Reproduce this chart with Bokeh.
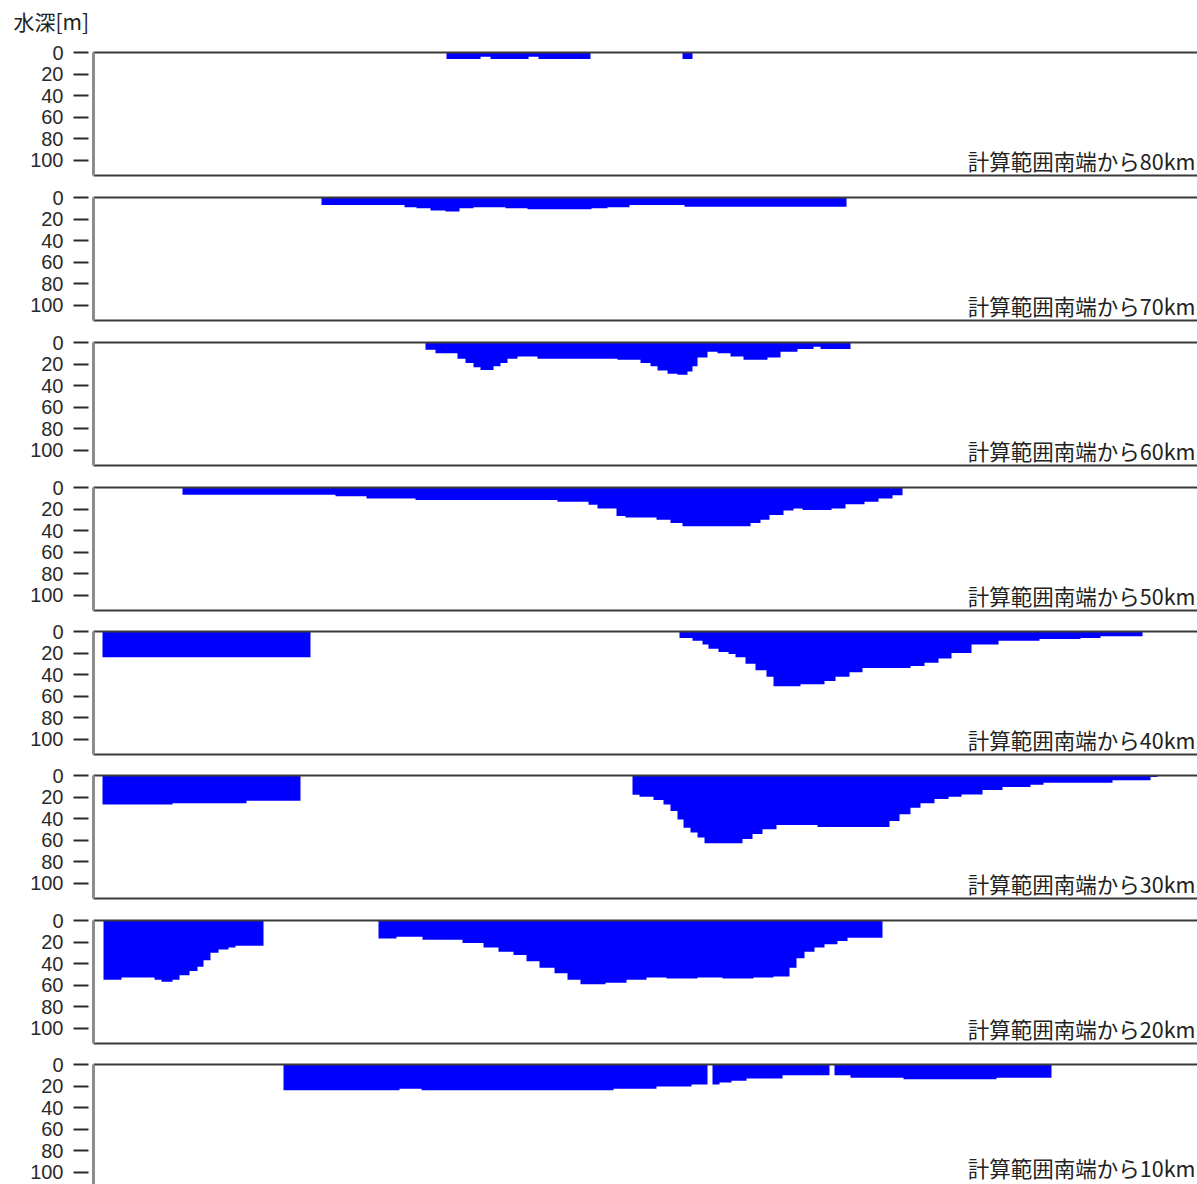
import numpy as np
from bokeh.plotting import figure
from bokeh.layouts import column
from bokeh.models import Range1d, LinearAxis, FixedTicker, Label
from bokeh.embed import file_html
from bokeh.resources import INLINE

# ---- data (x: distance along section, depth in m) ----
y_title = "水深[m]"
y_ticks = [0, 20, 40, 60, 80, 100]
labels = ["計算範囲南端から80km", "計算範囲南端から70km", "計算範囲南端から60km",
          "計算範囲南端から50km", "計算範囲南端から40km", "計算範囲南端から30km",
          "計算範囲南端から20km", "計算範囲南端から10km"]

x80 = [35.3, 38.7, 39.7, 43.5, 44.5, 49.7, 58.9, 59.9]
d80 = [6, 4, 6, 4, 6, 0, 6]

x70 = [22.8, 31.1, 32.3, 33.7, 35.2, 36.6, 38.0, 41.2, 43.4, 49.8, 51.4, 53.6, 59.1, 75.3]
d70 = [7, 9, 10, 12, 13, 10, 9, 10, 11, 10, 9, 7, 8.5]

x60 = [33.2, 34.2, 36.4, 37.2, 38.0, 38.7, 40.0, 40.7, 41.4, 42.4, 44.4, 52.4, 54.7, 55.7, 56.4,
       57.4, 58.4, 59.4, 59.9, 60.4, 61.4, 62.4, 63.7, 65.0, 67.4, 68.7, 70.4, 72.0, 72.7, 75.7]
d60 = [6.8, 10, 15, 19, 23, 25.5, 22, 19, 15, 13, 15, 16, 19, 22, 26, 29, 30, 27, 22, 14,
       8.7, 10, 13, 16, 14, 8.7, 6, 4, 6]

x50 = [8.9, 24.2, 27.3, 32.2, 46.4, 49.5, 50.4, 52.3, 53.2, 56.3, 57.7, 58.9, 65.7, 66.7, 67.6,
       69.0, 70.0, 70.9, 73.8, 75.2, 77.1, 78.5, 79.9, 80.9]
d50 = [6.7, 8.2, 10.3, 11.7, 13.2, 16, 19.6, 26.4, 27.8, 30, 33, 36, 33, 30, 25.5, 21.4, 19.6,
       21, 19.6, 15.5, 13.2, 10.3, 7.3]

x40 = [0.9, 21.7, 58.6, 59.9, 60.9, 61.5, 62.5, 63.5, 64.2, 65.2, 66.2, 67.3, 68.0, 70.7, 73.1,
       74.2, 75.6, 76.9, 81.7, 83.1, 84.5, 85.8, 87.8, 90.5, 94.6, 98.7, 100.7, 104.9]
d40 = [24, 0, 6, 8.5, 12, 16, 19, 21, 24, 30, 36, 42, 51, 49, 46, 42, 38, 34, 32, 29, 25, 20,
       12, 8.5, 7, 6, 4.5]

x30 = [0.9, 7.9, 15.3, 20.7, 53.9, 54.6, 56.0, 57.0, 57.7, 58.4, 59.0, 59.7, 60.4, 61.1, 64.9,
       65.9, 66.9, 68.3, 72.4, 79.6, 80.6, 81.7, 82.7, 84.1, 85.5, 86.8, 88.9, 90.9, 93.7, 95.0,
       101.9, 105.7, 106.4]
d30 = [27, 25.8, 23.6, 0, 18, 19.7, 22.7, 27, 33, 41, 48.5, 53, 57.6, 63, 59, 54.5, 50, 46, 48,
       42.4, 36, 30, 25.8, 21.8, 19.7, 17.6, 13.6, 10.6, 8.5, 6.7, 4.5, 1.5]

x20 = [1.0, 2.8, 6.1, 6.8, 7.9, 8.6, 9.6, 10.4, 11.0, 11.7, 12.5, 13.5, 14.2, 17.0, 28.5, 30.3,
       32.9, 36.9, 39.0, 40.5, 42.0, 43.3, 44.6, 46.1, 47.4, 48.7, 51.2, 53.3, 55.3, 57.3, 60.4,
       62.9, 66.0, 68.0, 69.6, 70.3, 71.1, 72.1, 73.1, 74.4, 75.4, 78.9]
d20 = [55, 53, 55, 57, 55, 51, 47, 43, 37, 30, 27, 25, 23.4, 0, 16.8, 15, 18, 21, 25, 29, 32,
       38, 44, 49, 55, 59.4, 58, 55, 53, 54, 53, 54, 53, 52, 44, 35, 29, 25, 22, 19, 16]

x10 = [19.0, 30.6, 32.8, 52.0, 56.3, 59.8, 61.4, 61.9, 62.6, 63.8, 65.3, 68.9, 73.6, 74.1, 75.7,
       81.0, 90.3, 95.8]
d10 = [24, 22.5, 24, 22.5, 20.5, 18.5, 0, 18.5, 16.7, 15, 13, 10, 0, 10, 12.3, 13.8, 12.3]

sections = [(x80, d80), (x70, d70), (x60, d60), (x50, d50),
            (x40, d40), (x30, d30), (x20, d20), (x10, d10)]

# ---- layout (top border, frame height, bottom border, label y) ----
HEAD_H = 40
layout = [(12, 123, 11, 100), (11, 123, 11, 100), (11, 123, 11, 100), (11, 123, 10, 100),
          (11, 123, 10, 100), (11, 123, 11, 100), (11, 123, 10, 100), (11, 120, 0, 96)]
PX_PER_M = 1.075
X_END = 110.4
NUM_FONT = "Liberation Sans"
JP_FONT = "Noto Sans CJK JP"


def border_axis(color):
    return LinearAxis(ticker=FixedTicker(ticks=[]), axis_line_color=color, axis_line_width=2,
                      major_tick_line_color=None, minor_tick_line_color=None,
                      major_tick_in=0, major_tick_out=0, minor_tick_in=0, minor_tick_out=0,
                      major_label_text_font_size="0px", major_label_standoff=0)


# header strip: carries the unit title of the depth axis
head = figure(width=1197, height=HEAD_H, x_range=Range1d(0, X_END), y_range=Range1d(1, 0),
              output_backend="svg", toolbar_location=None, min_border_left=93,
              min_border_right=0, min_border_top=0, min_border_bottom=0,
              x_axis_location=None, y_axis_location=None)
head.outline_line_color = None
head.xgrid.grid_line_color = None
head.ygrid.grid_line_color = None
head.title.text = y_title
head.title.align = "left"
head.title.offset = -80
head.title.standoff = 10
head.title.text_font = JP_FONT
head.title.text_font_size = "21px"
head.title.text_font_style = "normal"
head.title.text_color = "#222222"

figs = [head]
for i, ((bx, dd), lab, (bt, fh, bb, ly)) in enumerate(zip(sections, labels, layout)):
    ymax = fh / PX_PER_M
    p = figure(width=1197, height=bt + fh + bb, x_range=Range1d(0, X_END),
               y_range=Range1d(ymax, 0), output_backend="svg", toolbar_location=None,
               min_border_left=93, min_border_right=0, min_border_top=bt,
               min_border_bottom=bb, x_axis_location=None, y_axis_location=None)
    p.outline_line_color = None
    p.xgrid.grid_line_color = None
    p.ygrid.grid_line_color = None
    p.background_fill_color = "white"
    p.border_fill_color = "white"

    b = np.asarray(bx, dtype=float)
    d = np.asarray(dd, dtype=float)
    xs = np.repeat(b, 2)[1:-1]
    ys = np.repeat(d, 2)
    p.varea(x=xs, y1=np.zeros_like(ys), y2=ys, fill_color="#0000ff")

    yax = LinearAxis(ticker=FixedTicker(ticks=y_ticks), axis_line_color="#8c8c8c",
                     axis_line_width=3, major_tick_line_color="#2a2a2a",
                     major_tick_line_width=2, major_tick_in=-5, major_tick_out=20,
                     minor_tick_line_color=None, major_label_standoff=10,
                     major_label_text_font=NUM_FONT, major_label_text_font_size="20px",
                     major_label_text_color="#2a2a2a")
    p.add_layout(yax, "left")
    p.add_layout(border_axis("#3a3a3a"), "above")
    if bb > 0:
        p.add_layout(border_axis("#3a3a3a"), "below")

    p.add_layout(Label(x=X_END - 0.2, y=ly, text=lab, text_align="right",
                       text_baseline="middle", text_font=JP_FONT,
                       text_font_size="21.5px", text_color="#222222"))
    figs.append(p)

page = column(*figs, spacing=0)
open("out.html", "w").write(file_html(page, INLINE))
